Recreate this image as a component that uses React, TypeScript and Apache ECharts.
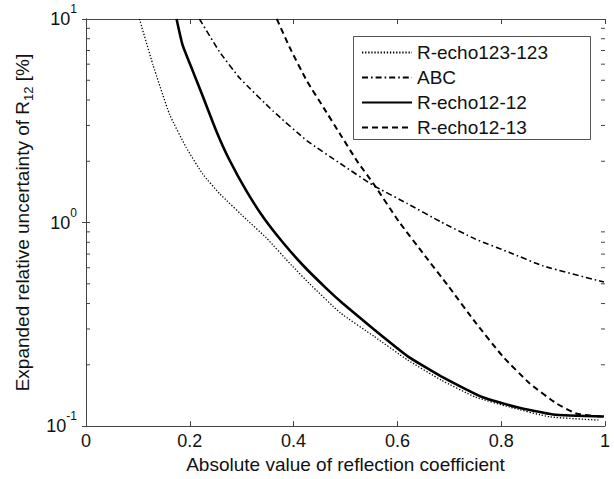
import React, { useEffect, useRef } from "react";
import * as echarts from "echarts";

// R-echo123-123 (dotted)
const dottedX = [0.103, 0.129, 0.161, 0.193, 0.225, 0.257, 0.312, 0.347, 0.396, 0.431, 0.49, 0.555, 0.62, 0.685, 0.75, 0.816, 0.894, 0.991];
const dottedY = [10, 5.96, 3.4, 2.34, 1.73, 1.39, 1.02, 0.843, 0.617, 0.5, 0.36, 0.276, 0.211, 0.168, 0.139, 0.124, 0.111, 0.107];
// ABC (dash-dot)
const abcX = [0.2186, 0.257, 0.297, 0.361, 0.426, 0.49, 0.554, 0.619, 0.683, 0.75, 0.816, 0.881, 0.998];
const abcY = [10, 6.92, 5.1, 3.52, 2.52, 1.95, 1.52, 1.24, 1.01, 0.83, 0.713, 0.612, 0.51];
// R-echo12-12 (solid)
const solidX = [0.1745, 0.186, 0.206, 0.225, 0.251, 0.276, 0.309, 0.344, 0.379, 0.418, 0.463, 0.495, 0.555, 0.62, 0.685, 0.763, 0.829, 0.9, 0.998];
const solidY = [10, 7.46, 5.53, 4.17, 2.82, 2.04, 1.43, 1.04, 0.8, 0.617, 0.475, 0.4, 0.298, 0.22, 0.175, 0.139, 0.124, 0.114, 0.1115];
// R-echo12-13 (dashed)
const dashX = [0.3677, 0.393, 0.426, 0.458, 0.49, 0.522, 0.554, 0.603, 0.653, 0.698, 0.75, 0.803, 0.855, 0.907, 0.946, 0.998];
const dashY = [10, 7.2, 4.94, 3.66, 2.71, 2.01, 1.55, 1.01, 0.687, 0.488, 0.324, 0.22, 0.162, 0.129, 0.115, 0.111];

const seriesNames = ["R-echo123-123", "ABC", "R-echo12-12", "R-echo12-13"];
const minorTickValues = [0.2, 0.3, 0.4, 0.5, 0.6, 0.7, 0.8, 0.9, 2, 3, 4, 5, 6, 7, 8, 9];

const FONT = "Liberation Sans, Arial, Helvetica, sans-serif";
const AXIS = "#444";

const zip = (xs: number[], ys: number[]) => xs.map((x, i) => [x, ys[i]]);

export default function App() {
  const ref = useRef<HTMLDivElement>(null);
  useEffect(() => {
    if (!ref.current) return;
    const chart = echarts.init(ref.current, undefined, { renderer: "svg" });
    const lineBase = { type: "line", symbol: "none", smooth: 0.15, xAxisIndex: 0, yAxisIndex: 0, color: "#000" };
    const yLabel = (v: number) => `{b|10}{e|${Math.round(Math.log10(v))}}`;
    chart.setOption({
      animation: false,
      textStyle: { fontFamily: FONT },
      grid: { left: 86, right: 9, top: 19, bottom: 50.5, containLabel: false },
      graphic: [
        {
          type: "rect",
          z: 100,
          silent: true,
          shape: { x: 353.5, y: 36.5, width: 237, height: 103 },
          style: { fill: "none", stroke: "#555", lineWidth: 1 },
        },
      ],
      legend: {
        data: seriesNames,
        orient: "vertical",
        left: 353,
        top: 36,
        padding: [7, 8, 6, 8],
        itemWidth: 50,
        itemHeight: 18,
        itemGap: 6,
        itemStyle: { color: "rgba(0,0,0,0)", borderWidth: 0, opacity: 0 },
        textStyle: { fontSize: 19, color: "#111", fontFamily: FONT },
      },
      xAxis: [
        {
          type: "value",
          min: 0,
          max: 1,
          interval: 0.2,
          name: "Absolute value of reflection coefficient",
          nameLocation: "middle",
          nameGap: 21,
          nameTextStyle: { fontSize: 19, color: "#111", fontFamily: FONT },
          axisLine: { show: true, lineStyle: { color: AXIS } },
          axisTick: { show: true, inside: true, length: 5, lineStyle: { color: AXIS } },
          axisLabel: { fontSize: 18, color: "#111", margin: 6, fontFamily: FONT },
          splitLine: { show: false },
        },
        {
          type: "value",
          position: "top",
          min: 0,
          max: 1,
          interval: 0.2,
          axisLine: { show: true, lineStyle: { color: AXIS } },
          axisTick: { show: true, inside: true, length: 5, lineStyle: { color: AXIS } },
          axisLabel: { show: false },
          splitLine: { show: false },
        },
      ],
      yAxis: [
        {
          type: "log",
          logBase: 10,
          min: 0.1,
          max: 10,
          name: "{n|Expanded relative uncertainty of R}{s|12}{n| [%]}",
          nameLocation: "middle",
          nameGap: 46,
          nameTextStyle: {
            color: "#111",
            fontFamily: FONT,
            rich: {
              n: { fontSize: 19, lineHeight: 26, verticalAlign: "middle", fontFamily: FONT, color: "#111" },
              s: { fontSize: 13, lineHeight: 13, verticalAlign: "bottom", fontFamily: FONT, color: "#111" },
            },
          },
          axisLine: { show: true, lineStyle: { color: AXIS } },
          axisTick: { show: true, inside: true, length: 4, lineStyle: { color: AXIS } },
          axisLabel: {
            margin: 9,
            formatter: yLabel,
            rich: {
              b: { fontSize: 18, lineHeight: 18, verticalAlign: "middle", fontFamily: FONT, color: "#111" },
              e: { fontSize: 12, lineHeight: 14, padding: [0, 0, 20, 0], verticalAlign: "middle", fontFamily: FONT, color: "#111" },
            },
          },
          splitLine: { show: false },
        },
        {
          type: "log",
          logBase: 10,
          min: 0.1,
          max: 10,
          position: "right",
          axisLine: { show: true, lineStyle: { color: AXIS } },
          axisTick: { show: true, inside: true, length: 4, lineStyle: { color: AXIS } },
          axisLabel: { show: false },
          splitLine: { show: false },
        },
      ],
      series: [
        {
          ...lineBase,
          name: seriesNames[0],
          data: zip(dottedX, dottedY),
          lineStyle: { color: "#000", width: 1.3, type: [1.3, 1.8] },
        },
        {
          ...lineBase,
          name: seriesNames[1],
          data: zip(abcX, abcY),
          lineStyle: { color: "#000", width: 1.6, type: [6, 3, 1.6, 3] },
        },
        {
          ...lineBase,
          name: seriesNames[2],
          data: zip(solidX, solidY),
          lineStyle: { color: "#000", width: 2.6, type: "solid" },
        },
        {
          ...lineBase,
          name: seriesNames[3],
          data: zip(dashX, dashY),
          lineStyle: { color: "#000", width: 2, type: [6, 4] },
        },
        {
          type: "custom",
          name: "minorTicks",
          xAxisIndex: 0,
          yAxisIndex: 0,
          silent: true,
          clip: false,
          data: minorTickValues.map((v) => [0, v]),
          renderItem: (params: any, api: any) => {
            const v = api.value(1);
            const p = api.coord([0, v]);
            const q = api.coord([1, v]);
            const style = { stroke: AXIS, lineWidth: 1 };
            return {
              type: "group",
              children: [
                { type: "line", shape: { x1: p[0], y1: p[1], x2: p[0] + 4, y2: p[1] }, style },
                { type: "line", shape: { x1: q[0], y1: q[1], x2: q[0] - 4, y2: q[1] }, style },
              ],
            };
          },
        },
      ],
    });
    return () => chart.dispose();
  }, []);
  return <div ref={ref} style={{ position: "absolute", left: 0, top: 0, width: 614, height: 479 }} />;
}
